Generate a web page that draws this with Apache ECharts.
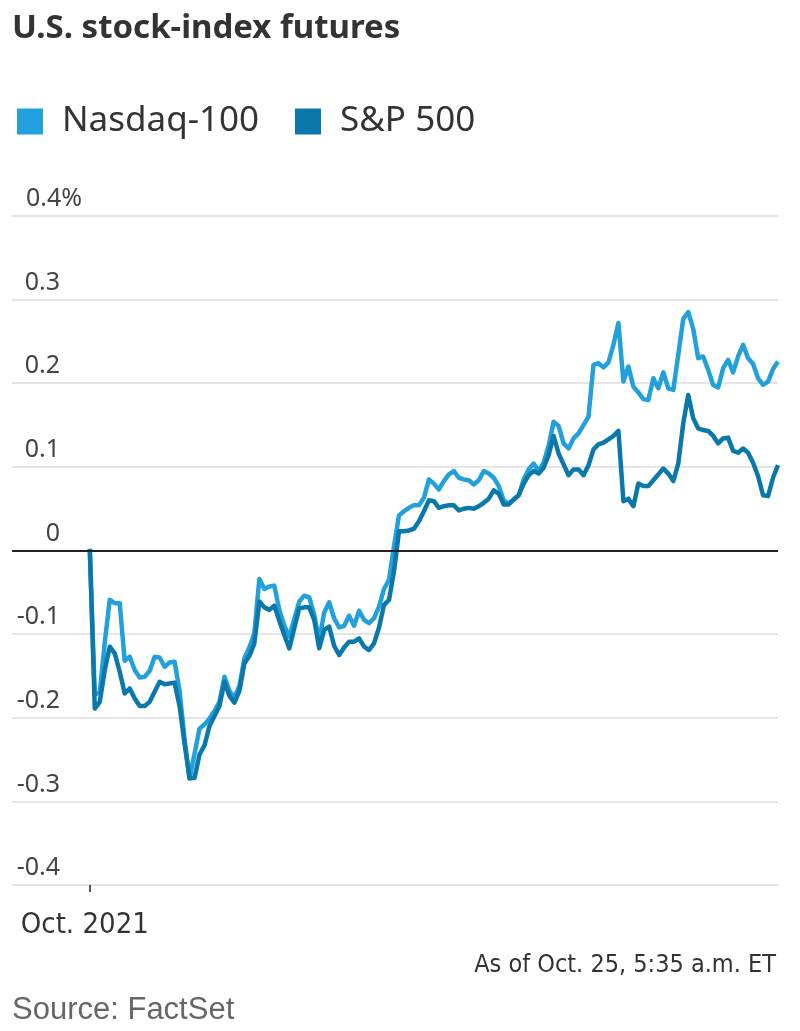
<!DOCTYPE html>
<html lang="en">
<head>
    <meta charset="UTF-8">
    <title>U.S. stock-index futures</title>
    <script src="https://cdn.jsdelivr.net/npm/echarts@6.0.0/dist/echarts.min.js"></script>
    <style>
        html, body { margin: 0; padding: 0; background: #fff; }
    </style>
</head>
<body>
<div id="main" style="width: 800px;height:1031px;"></div> <!-- chart box -->
<script type="text/javascript">
    // intraday % change, one reading per step from the open of the window
    const nasdaq = [
        0.002, -0.172, -0.170, -0.110, -0.059, -0.063, -0.063, -0.132, -0.127, -0.143,
        -0.152, -0.151, -0.144, -0.127, -0.128, -0.139, -0.134, -0.133, -0.168, -0.225,
        -0.273, -0.243, -0.213, -0.208, -0.201, -0.192, -0.181, -0.151, -0.168, -0.176,
        -0.162, -0.129, -0.116, -0.099, -0.034, -0.046, -0.043, -0.042, -0.071, -0.090,
        -0.103, -0.082, -0.061, -0.054, -0.056, -0.077, -0.108, -0.074, -0.062, -0.081,
        -0.092, -0.090, -0.078, -0.090, -0.072, -0.083, -0.087, -0.081, -0.067, -0.046,
        -0.035, 0.005, 0.042, 0.047, 0.051, 0.054, 0.054, 0.063, 0.085, 0.080,
        0.073, 0.083, 0.091, 0.095, 0.087, 0.085, 0.084, 0.079, 0.084, 0.095,
        0.092, 0.087, 0.077, 0.060, 0.056, 0.061, 0.066, 0.085, 0.097, 0.104,
        0.095, 0.105, 0.125, 0.154, 0.149, 0.128, 0.122, 0.134, 0.140, 0.150,
        0.160, 0.222, 0.224, 0.219, 0.225, 0.246, 0.272, 0.202, 0.220, 0.196,
        0.189, 0.181, 0.180, 0.206, 0.194, 0.213, 0.194, 0.192, 0.234, 0.277,
        0.285, 0.265, 0.230, 0.232, 0.216, 0.198, 0.195, 0.218, 0.228, 0.213,
        0.232, 0.246, 0.230, 0.223, 0.206, 0.198, 0.202, 0.217, 0.226
    ];
    const sp500 = [
        0.002, -0.189, -0.181, -0.143, -0.115, -0.123, -0.145, -0.171, -0.165, -0.177,
        -0.186, -0.186, -0.181, -0.169, -0.157, -0.160, -0.159, -0.158, -0.186, -0.231,
        -0.272, -0.272, -0.244, -0.233, -0.210, -0.198, -0.186, -0.157, -0.174, -0.182,
        -0.168, -0.135, -0.126, -0.111, -0.061, -0.068, -0.071, -0.066, -0.084, -0.101,
        -0.117, -0.093, -0.069, -0.068, -0.068, -0.083, -0.117, -0.095, -0.091, -0.114,
        -0.125, -0.116, -0.109, -0.109, -0.105, -0.115, -0.119, -0.111, -0.092, -0.065,
        -0.059, -0.025, 0.023, 0.023, 0.024, 0.026, 0.035, 0.047, 0.060, 0.059,
        0.051, 0.053, 0.054, 0.054, 0.048, 0.050, 0.051, 0.050, 0.053, 0.057,
        0.062, 0.072, 0.068, 0.055, 0.055, 0.061, 0.066, 0.080, 0.090, 0.095,
        0.092, 0.099, 0.114, 0.137, 0.116, 0.103, 0.090, 0.097, 0.097, 0.090,
        0.102, 0.121, 0.127, 0.129, 0.133, 0.137, 0.143, 0.059, 0.062, 0.053,
        0.080, 0.077, 0.077, 0.084, 0.091, 0.098, 0.092, 0.083, 0.104, 0.152,
        0.186, 0.158, 0.146, 0.144, 0.143, 0.137, 0.128, 0.134, 0.135, 0.119,
        0.117, 0.122, 0.117, 0.105, 0.089, 0.066, 0.065, 0.087, 0.102
    ];
    const seriesNames = ['Nasdaq-100', 'S&P 500'];
    const seriesColors = ['#22a0db', '#0b78ac'];
    const yTickLabels = ['-0.4', '-0.3', '-0.2', '-0.1', '0', '0.1', '0.2', '0.3', '0.4%'];
    const xTickLabels = ['Oct. 2021'];

    const narrow = "'DejaVu Sans Condensed', 'Liberation Sans Narrow', sans-serif";
    const plain = "'Noto Sans', sans-serif";

    let options = {
        animation: false,
        backgroundColor: '#fff',
        title: [
            { text: 'U.S. stock-index futures', left: 12, top: 12, padding: 0,
              textStyle: { fontFamily: plain, fontWeight: 'bold', fontSize: 33, color: '#333' } },
            { text: 'As of Oct. 25, 5:35 a.m. ET', right: 24, top: 953, padding: 0,
              textStyle: { fontFamily: narrow, fontWeight: 'normal', fontSize: 25, color: '#333' } },
            { text: 'Source: FactSet', left: 12, top: 995, padding: 0,
              textStyle: { fontFamily: "'Liberation Sans', sans-serif", fontWeight: 'normal', fontSize: 31, color: '#666' } }
        ],
        legend: {
            left: 17, top: 104, padding: 0,
            icon: 'rect', itemWidth: 26, itemHeight: 26, itemGap: 36,
            data: seriesNames,
            textStyle: { fontFamily: plain, fontSize: 35, color: '#333', padding: [0, 0, 0, 14] }
        },
        grid: { left: 12, right: 22, top: 216, bottom: 146 },
        xAxis: {
            type: 'value', min: -15.6, max: nasdaq.length - 1,
            axisLine: { show: true, onZero: false, lineStyle: { color: 'rgba(0,0,0,0)' } },
            splitLine: { show: false },
            axisTick: { show: true, customValues: [0], length: 7, lineStyle: { color: '#222', width: 1.5 } },
            axisLabel: {
                customValues: [0], margin: 26, padding: [0, 10, 0, 0],
                formatter: () => xTickLabels[0],
                fontFamily: narrow, fontSize: 29, color: '#333'
            }
        },
        yAxis: {
            type: 'value', min: -0.4, max: 0.4, interval: 0.1,
            axisLine: { show: false }, axisTick: { show: false },
            splitLine: { lineStyle: { color: '#dcdcdc', width: 1.5 } },
            axisLabel: {
                showMinLabel: true, showMaxLabel: true,
                align: 'left', margin: 0, verticalAlign: 'bottom', lineHeight: 34,
                fontFamily: plain, fontSize: 25, color: '#444',
                formatter: function (v) {
                    const t = yTickLabels[Math.round((v + 0.4) * 10)];
                    return t.endsWith('%') ? '{m|' + t + '}' : '{n|' + t + '}';
                },
                rich: {
                    n: { width: 48, align: 'right', fontFamily: plain, fontSize: 25, color: '#444', lineHeight: 34 },
                    m: { width: 70, align: 'right', fontFamily: plain, fontSize: 25, color: '#444', lineHeight: 34 }
                }
            }
        },
        series: [nasdaq, sp500].map((vals, k) => ({
            name: seriesNames[k],
            type: 'line',
            showSymbol: false,
            symbol: 'none',
            color: seriesColors[k],
            lineStyle: { width: 4.5, color: seriesColors[k], join: 'round' },
            data: vals.map((v, i) => [i, v]),
            markLine: k === 0 ? {
                silent: true, symbol: 'none', label: { show: false },
                lineStyle: { color: '#222', width: 2, type: 'solid' },
                data: [{ yAxis: 0 }]
            } : undefined
        }))
    };
    let myChart = echarts.init(document.getElementById('main'));
    myChart.setOption(options);
</script>
</body>
</html>
